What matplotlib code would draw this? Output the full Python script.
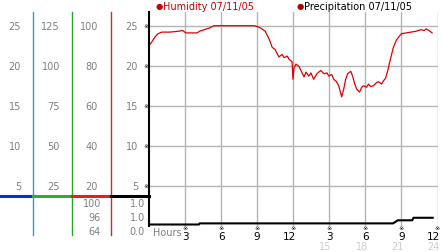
import matplotlib.pyplot as plt
from matplotlib.lines import Line2D

# humidity readings (hours since midnight, value on 0-25 scale)
hum_hours = [0, 0.25, 0.5, 0.75, 1.07, 1.74, 2.4, 2.8, 3.06, 3.4, 4.0, 4.2, 4.6, 5.0,
             5.4, 5.9, 7.0, 8.0, 8.76, 9.0, 9.3, 9.67, 10.0, 10.25, 10.5, 10.8, 11.07,
             11.24, 11.5, 11.65, 11.9, 11.98, 12.07, 12.23, 12.48, 12.64, 12.9, 13.06,
             13.3, 13.47, 13.7, 13.97, 14.13, 14.3, 14.55, 14.8, 14.96, 15.2, 15.37,
             15.6, 15.78, 16.03, 16.2, 16.36, 16.53, 16.78, 16.94, 17.1, 17.27, 17.52,
             17.69, 17.85, 18.1, 18.26, 18.43, 18.68, 18.93, 19.09, 19.34, 19.5, 19.67,
             19.83, 20.08, 20.33, 20.58, 20.83, 21.0, 21.4, 21.8, 22.2, 22.6, 22.9,
             23.05, 23.3, 23.55]
hum_values = [22.5, 23.0, 23.6, 24.0, 24.2, 24.2, 24.3, 24.4, 24.1, 24.1, 24.1, 24.3,
              24.5, 24.7, 25.0, 25.0, 25.0, 25.0, 25.0, 24.9, 24.7, 24.3, 23.3, 22.3,
              22.0, 21.1, 21.4, 21.0, 21.2, 20.8, 20.5, 18.3, 19.8, 20.2, 19.9, 19.4,
              18.6, 19.2, 18.7, 19.1, 18.3, 19.0, 19.2, 19.4, 19.0, 19.1, 18.7, 18.9,
              18.3, 18.0, 17.5, 16.1, 17.1, 18.3, 19.0, 19.3, 18.7, 17.8, 17.1, 16.7,
              17.3, 17.5, 17.3, 17.7, 17.4, 17.5, 17.9, 18.0, 17.7, 18.1, 18.4, 19.2,
              20.8, 22.3, 23.2, 23.7, 24.0, 24.1, 24.2, 24.3, 24.5, 24.4, 24.6, 24.4,
              24.1]

prec_hours = [0, 4.15, 4.2, 20.3, 20.7, 21.9, 22.0, 23.6]
prec_values = [0.0, 0.0, 0.04, 0.04, 0.15, 0.15, 0.24, 0.24]

hour_ticks = [3, 6, 9, 12, 15, 18, 21, 24]
hour_labels = ["3", "6", "9", "12", "3", "6", "9", "12"]
hour_labels_24 = ["15", "18", "21", "24"]

y_ticks = [25, 20, 15, 10, 5]
scale_cols = [
    ["25", "20", "15", "10", "5"],
    ["125", "100", "75", "50", "25"],
    ["100", "80", "60", "40", "20"],
    ["25", "20", "15", "10", "5"],
]
low_col3 = ["100", "96", "64"]
low_col4 = ["1.0", "1.0", "0.0"]

W, H = 442, 253
GREY = "#7f7f7f"
FS = 7
X0, X24 = 149, 437.5
PPH = (X24 - X0) / 24


def fx(px):
    return px / W


def fy(py):
    return 1 - py / H


fig = plt.figure(figsize=(W / 100, H / 100), dpi=100)

# main humidity axes
ax = fig.add_axes([fx(X0), fy(226.7), fx(X24) - fx(X0), (226.7 - 12.7) / H])
ax.set_xlim(0, 24)
ax.set_ylim(0, 26.75)
for s in ["top", "right", "bottom"]:
    ax.spines[s].set_visible(False)
ax.spines["left"].set_linewidth(1.5)
ax.set_xticks(hour_ticks)
ax.set_yticks(y_ticks)
ax.tick_params(left=False, bottom=False, labelleft=False, labelbottom=False)
ax.grid(True, color="#b4b4b4", linewidth=1)
ax.set_axisbelow(True)
ax.plot(hum_hours, hum_values, color="#dd0000", linewidth=0.9)

# precipitation overlay
pax = fig.add_axes([fx(X0), fy(225.5), fx(X24) - fx(X0), 28 / H])
pax.set_xlim(0, 24)
pax.set_ylim(0, 1)
pax.axis("off")
pax.patch.set_alpha(0)
pax.plot(prec_hours, prec_values, color="black", linewidth=1.5, clip_on=False)

# left scale columns
col_x = [21, 60, 98, 138]
col_lines = [(33, "#2aa0d0"), (72, "#2ea02e"), (111, "#cc2a2a")]
for i, lab in enumerate(y_ticks):
    py = 226.7 - lab * 8
    for c, labels in enumerate(scale_cols):
        fig.text(fx(col_x[c]), fy(py), labels[i], ha="right", va="center",
                 color=GREY, fontsize=FS)
    fig.text(fx(146), fy(py), "\u203b", ha="center", va="center", fontsize=4.5,
             color="black")

for x, col in col_lines:
    fig.add_artist(Line2D([fx(x), fx(x)], [fy(13), fy(236)], color=col,
                          linewidth=1, transform=fig.transFigure))

seg = [(0, 33, "#0033cc"), (33, 72, "#33aa33"), (72, 111, "#dd2222"), (111, 149, "black")]
for x0, x1, col in seg:
    fig.add_artist(Line2D([fx(x0), fx(x1)], [fy(197), fy(197)], color=col,
                          linewidth=2.2, transform=fig.transFigure))

for i, py in enumerate([204, 218, 232]):
    fig.text(fx(101), fy(py), low_col3[i], ha="right", va="center", color=GREY,
             fontsize=FS)
    fig.text(fx(145), fy(py), low_col4[i], ha="right", va="center", color=GREY,
             fontsize=FS)

# hour axis labels
fig.text(fx(153), fy(233), "Hours", ha="left", va="center", color=GREY, fontsize=FS)
for h, lab in zip(hour_ticks, hour_labels):
    px = X0 + h * PPH
    fig.text(fx(px), fy(229), "\u203b", ha="center", va="center", fontsize=4.5)
    if len(lab) == 1:
        fig.text(fx(px), fy(237), lab, ha="center", va="center", fontsize=FS + 0.5)
    else:
        fig.text(fx(px + 2.5), fy(237), lab, ha="right", va="center", fontsize=FS + 0.5)
for h, lab in zip(hour_ticks[4:], hour_labels_24):
    px = X0 + h * PPH
    fig.text(fx(px + 2.5), fy(247.5), lab, ha="right", va="center", color="#cccccc",
             fontsize=FS)

# legend
fig.text(fx(156), fy(7), "\u25cf", ha="left", va="center", color="#cc0000", fontsize=6)
fig.text(fx(163), fy(7), "Humidity 07/11/05", ha="left", va="center",
         color="#cc0000", fontsize=FS)
fig.text(fx(297), fy(7), "\u25cf", ha="left", va="center", color="#aa0000", fontsize=6)
fig.text(fx(304), fy(7), "Precipitation 07/11/05", ha="left", va="center",
         color="black", fontsize=FS)

fig.savefig("out.png", dpi=100)
